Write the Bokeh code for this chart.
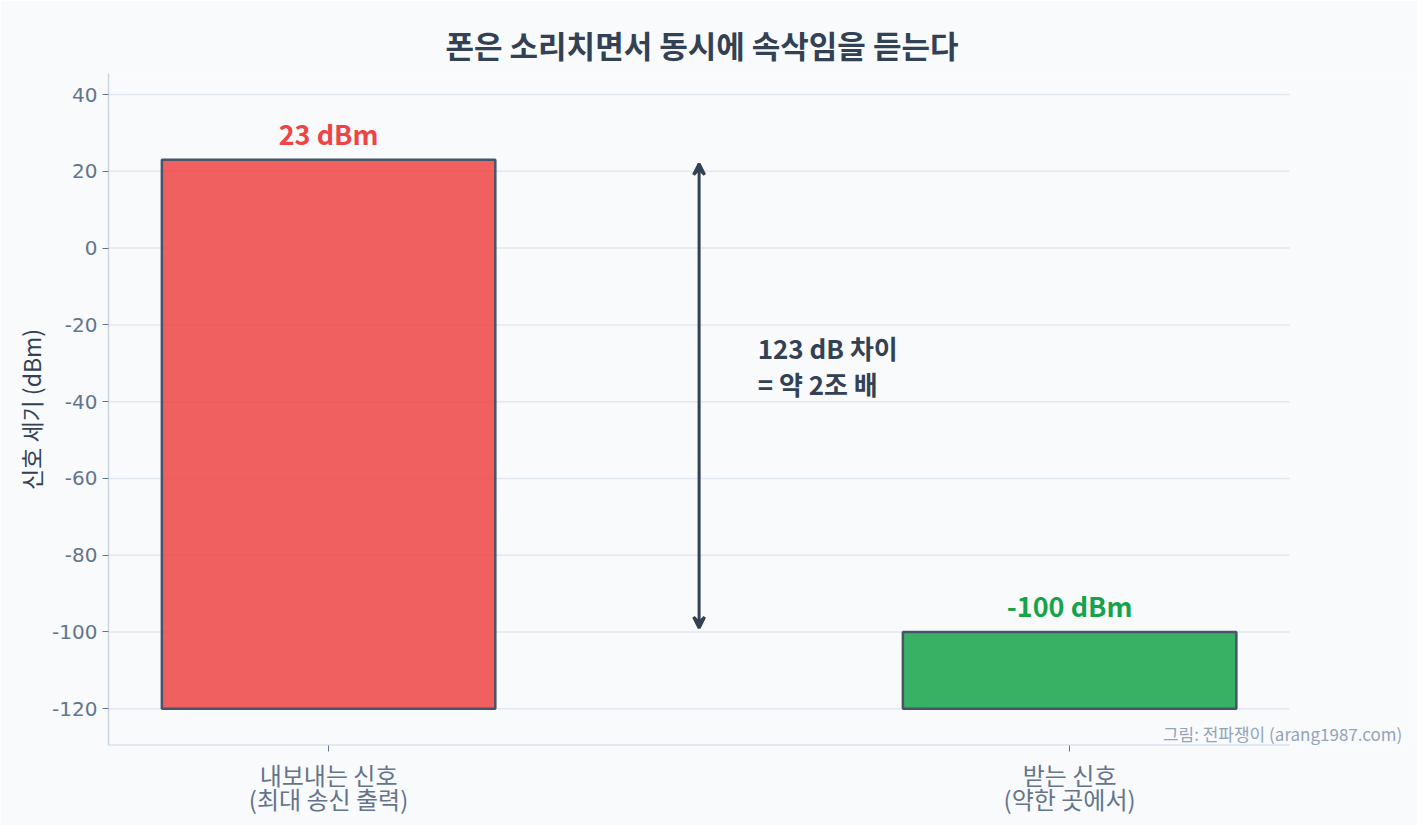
from bokeh.plotting import figure
from bokeh.models import (ColumnDataSource, FixedTicker, Label, Arrow, VeeHead, Range1d)
from bokeh.embed import file_html
from bokeh.resources import INLINE
from bokeh.core.properties import value

# ---- data ----
categories = ["내보내는 신호\n(최대 송신 출력)", "받는 신호\n(약한 곳에서)"]
signal_dbm = [23, -100]
bar_bottom = -120
value_labels = ["23 dBm", "-100 dBm"]
bar_colors = ["#ef4444", "#16a34a"]
y_ticks = [40, 20, 0, -20, -40, -60, -80, -100, -120]
y_tick_labels = ["40", "20", "0", "-20", "-40", "-60", "-80", "-100", "-120"]
diff_text = "123 dB 차이\n= 약 2조 배"
title_text = "폰은 소리치면서 동시에 속삭임을 듣는다"
credit_text = "그림: 전파쟁이 (arang1987.com)"

KFONT = "Noto Sans CJK KR"
BG = "#f8fafc"
GRID = "#e2e8f0"
AXIS = "#cbd5e1"

# axis extents (the frame is widened on the right so the credit line is not clipped)
X_LO, X_HI = -0.297, 1.297
Y_LO, Y_HI = -129.6, 45.5

xs = list(range(len(categories)))
src = ColumnDataSource(dict(x=xs, top=signal_dbm, bottom=[bar_bottom] * len(xs),
                            color=bar_colors, label=value_labels,
                            label_color=["#ef4444", "#16a34a"]))

p = figure(width=1417, height=825, output_backend="svg", toolbar_location=None,
           x_range=Range1d(X_LO, 1.46), y_range=Range1d(Y_LO, Y_HI),
           background_fill_color=BG, border_fill_color=BG,
           min_border_left=108, min_border_right=7, min_border_top=73, min_border_bottom=80)

p.title.text = title_text
p.title.align = "left"
p.title.offset = 337
p.title.vertical_align = "top"
p.title.text_font = KFONT
p.title.text_font_size = "31px"
p.title.text_font_style = "bold"
p.title.text_color = "#334155"
p.title.standoff = 10

p.outline_line_color = None

# horizontal grid lines limited to the axis extent
p.segment(x0=X_LO, x1=X_HI, y0=y_ticks, y1=y_ticks, line_color=GRID, line_width=1.5)
# bottom axis line
p.segment(x0=[X_LO], x1=[X_HI], y0=[Y_LO], y1=[Y_LO], line_color=AXIS, line_width=2)

p.vbar(x="x", top="top", bottom="bottom", width=0.45, source=src,
       fill_color="color", fill_alpha=0.85, line_color="#475569", line_width=2.5)

p.text(x="x", y="top", text="label", source=src, text_color="label_color",
       text_font=value(KFONT), text_font_size="27px", text_font_style="bold",
       text_align="center", text_baseline="bottom", y_offset=-7)

# arrow between the two levels
p.add_layout(Arrow(x_start=0.5, y_start=signal_dbm[1] + 1, x_end=0.5, y_end=signal_dbm[0] - 1,
                   line_color="#334155", line_width=3,
                   start=VeeHead(size=11, line_color="#334155", line_width=3, fill_color="#334155"),
                   end=VeeHead(size=11, line_color="#334155", line_width=3, fill_color="#334155")))

p.add_layout(Label(x=0.579, y=-30.6, text=diff_text,
                   text_font=KFONT, text_font_size="26px", text_font_style="bold",
                   text_color="#334155", text_align="left", text_baseline="middle",
                   text_line_height=0.96))

p.add_layout(Label(x=1.449, y=-126.5, text=credit_text,
                   text_font=KFONT, text_font_size="17px", text_color="#94a3b8",
                   text_align="right", text_baseline="middle"))

# axes
p.xaxis.ticker = FixedTicker(ticks=xs)
p.xaxis.major_label_overrides = {i: c for i, c in enumerate(categories)}
p.xaxis.major_label_text_font = KFONT
p.xaxis.major_label_text_font_size = "24px"
p.xaxis.major_label_text_color = "#64748b"
p.xaxis.major_label_text_line_height = 0.69
p.xaxis.axis_line_color = None
p.xaxis.major_tick_line_color = "#64748b"
p.xaxis.major_tick_out = 6
p.xaxis.major_tick_in = 0
p.xaxis.minor_tick_line_color = None

p.yaxis.ticker = FixedTicker(ticks=y_ticks)
p.yaxis.major_label_overrides = dict(zip(y_ticks, y_tick_labels))
p.yaxis.major_label_text_font = "DejaVu Sans"
p.yaxis.major_label_text_font_size = "20px"
p.yaxis.major_label_text_color = "#64748b"
p.yaxis.axis_line_color = AXIS
p.yaxis.axis_line_width = 1.5
p.yaxis.major_tick_line_color = "#64748b"
p.yaxis.major_tick_out = 6
p.yaxis.major_tick_in = 0
p.yaxis.minor_tick_line_color = None
p.yaxis.axis_label = "신호 세기 (dBm)"
p.yaxis.axis_label_text_font = KFONT
p.yaxis.axis_label_text_font_size = "23px"
p.yaxis.axis_label_text_font_style = "normal"
p.yaxis.axis_label_text_color = "#334155"
p.yaxis.axis_label_standoff = 1

p.xgrid.grid_line_color = None
p.ygrid.grid_line_color = None

open("out.html", "w").write(file_html(p, INLINE))
